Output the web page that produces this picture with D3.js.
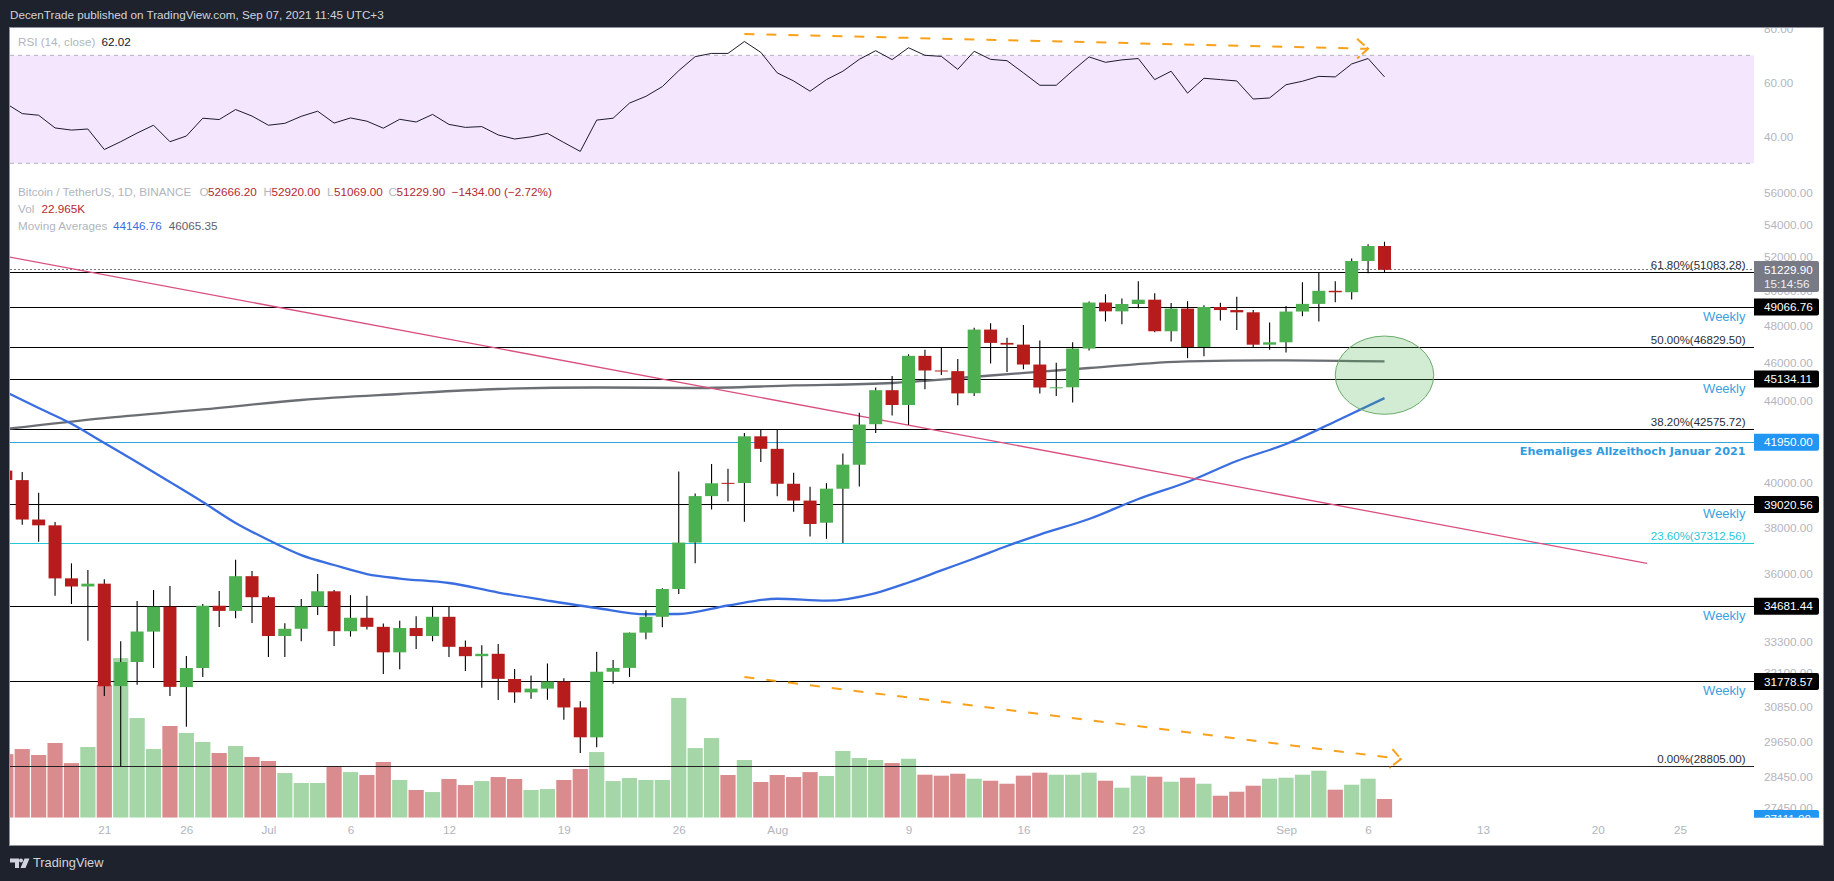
<!DOCTYPE html>
<html><head><meta charset="utf-8">
<script src="https://cdn.jsdelivr.net/npm/d3@7"></script>
<style>html,body{margin:0;padding:0;background:#1e222d;overflow:hidden}svg{display:block}text{font-family:"Liberation Sans",Arial,sans-serif}</style>
</head><body><svg id="c" width="1834" height="881"></svg>
<script>
// ---- data (daily bars from 15 Jun 2021 to 7 Sep 2021) ----
const firstDay = "2021-06-15";
const opens = [40590,40143,38349,38092,35820,35484,35600,31614,32509,33675,34663,31576,32283,34700,34494,35911,35045,33502,33786,34669,35287,33690,34220,33862,32875,33815,33502,34258,33086,32729,32820,31874,31383,31520,31778,30840,29790,32144,32287,33634,34258,35381,37337,39406,40015,40008,42235,41626,39974,39201,38207,39744,40865,42832,44555,43798,46365,45585,45551,44400,47800,47068,46973,45901,44695,44705,46760,49322,48821,49239,49486,47707,48978,46843,49069,48895,48767,46970,47100,48810,49246,49999,49915,51756,52666.2];
const highs = [41330,40527,39560,38240,36450,36170,35780,33298,34891,35340,35500,32733,34770,35300,36600,36130,35100,34000,34970,36000,35340,35130,35100,33990,34100,34285,34690,34680,33331,33150,33190,32250,32000,32450,31900,31060,32900,32580,33640,34520,35410,40550,39530,40900,40680,42400,42600,42600,40490,39830,40000,41400,43400,44700,45300,46450,46700,46800,46200,47900,48150,47350,48050,47200,46000,47100,49380,49800,49550,50550,49850,49300,49400,49170,49310,49650,48900,48200,49130,50500,51080,50550,51900,52780,52920];
const lows = [39506,38116,37375,35105,34770,33320,31250,28805,31665,32283,31250,30160,31947,33860,34200,34013,32700,32700,33300,34330,33115,33480,33760,32060,32240,33000,33300,32700,32170,31550,31107,31010,31150,31120,30400,29250,29450,31700,31950,33380,33850,35175,36450,38800,39165,38250,41000,39400,38700,37600,37500,37320,39850,42400,43270,42800,44600,45350,43790,44250,45950,45500,45650,44390,44250,43930,46650,48250,48100,49000,47650,47150,46240,46350,48300,47770,46850,46700,46550,48550,48250,49340,49500,51020,51069];
const closes = [40150,38349,38092,35819,35484,35600,31608,32509,33678,34663,31584,32283,34700,34494,35911,35045,33504,33786,34669,35287,33690,34220,33862,32875,33815,33502,34258,33086,32729,32820,31880,31383,31520,31778,30839,29790,32144,32287,33634,34258,35381,37337,39406,39995,40008,42235,41626,39974,39201,38152,39747,40869,42816,44555,43798,46365,45585,45551,44390,47800,47068,46973,45901,44695,44705,46760,49322,48821,49239,49486,47707,48978,46843,49069,48895,48767,46970,47100,48810,49246,49999,49915,51756,52663,51229.9];
const volumesK = [78,84.3,77,91.7,67,86.8,163,196,122.4,84.3,112.6,104,93,79.4,88,74.5,69.6,54.8,42.6,42.6,62.2,56,52.4,68.4,46.3,34,31.5,47.5,40.1,45,49.9,47.5,34,35.2,46.3,59.8,80.6,45,48.7,46.3,46.3,147,85.5,97.8,52.4,70.8,43.8,52.4,49.9,56,51.2,81.9,73.3,70.8,67.1,72.4,52.8,51.6,54,47.9,45.4,41.7,51.6,55.3,52.8,52.8,55.3,45.4,36.8,51.6,50.3,44.2,49.1,41.7,27,31.9,39.3,47.9,49.1,52.8,57.7,34.4,40.5,47.9,22.965];
const rsiValues = [52.2,48.4,47.8,43.1,42.3,42.7,35.1,38.0,41.2,44.1,38.0,40.1,46.7,46.2,49.9,47.5,44.1,44.8,47.4,49.3,44.9,46.8,45.6,43.0,46.3,45.3,48.1,44.4,43.3,43.6,40.5,39.0,39.8,41.1,37.7,34.4,46.0,46.7,52.3,54.8,58.4,64.3,69.5,70.7,70.7,75.1,71.1,63.5,60.5,56.7,61.0,64.1,68.5,71.7,68.4,72.8,70.0,69.6,64.8,71.5,68.5,68.0,63.5,58.9,58.9,64.3,69.4,67.4,68.3,68.8,61.0,64.1,56.0,61.5,61.0,60.5,53.8,54.2,59.1,60.4,62.2,62.0,66.8,68.8,62.02];
// moving averages, read at sampled days (day index counted from 21 Jun)
const ma50Days = [-6,-4,-2,0,2,4,6,8,10,12,14,16,18,21,24,27,30,33,35,38,41,44,47,49,51,53,55,57,60,63,66,69,72,75,78];
const ma50Values = [44462,43646,42858,41909,40981,40056,39137,38196,37449,36801,36380,36001,35813,35628,35237,34911,34610,34360,34370,34710,34984,34903,35216,35648,36150,36654,37190,37686,38372,39273,40056,41043,41860,42967,44146.76];
const ma200Days = [-6,0,6,12,18,24,30,36,42,48,54,60,66,72,78];
const ma200Values = [42595,43140,43570,44052,44358,44618,44696,44670,44800,44929,45320,45718,46074,46126,46065.35];
const priceTicks = [56000,54000,52000,50000,48000,46000,44000,42000,40000,38000,36000,33300,32100,30850,29650,28450,27450];
const rsiTicks = [80,60,40];
const timeTickDays = [0,5,10,15,21,28,35,41,49,56,63,72,77,84,91,96];
const timeTickLabels = ["21","26","Jul","6","12","19","26","Aug","9","16","23","Sep","6","13","20","25"];
const blackLevels = [49066.76,45134.11,39020.56,34681.44,31778.57];
const fibLevels = [51083.28,46829.50,42575.72,37312.56,28805.00];
const fibPercents = ["61.80%","50.00%","38.20%","23.60%","0.00%"];
const athLevel = 41950;
const lastPrice = 51229.90;
const countdown = "15:14:56";
const lowAxisLabel = 27111;
const trendDays = [-6,94];
const trendPrices = [52040,36450];
const rsiArrowDays = [39,77];
const rsiArrowValues = [77.9,72.4];
const priceArrowDays = [39,79];
const priceArrowPrices = [31947,29049];
const zoneDays = [75,81];
const zonePrices = [47443,43326];

// ---- scales ----
const day0 = new Date(Date.UTC(2021,5,21));
const dayAt = i => d3.utcDay.offset(day0, i);
const barDay = i => d3.utcDay.offset(new Date(firstDay+"T00:00:00Z"), i);
const x = d3.scaleUtc().domain([dayAt(0),dayAt(78)]).range([104.3,1384.5]);
const y = d3.scaleLog().domain([28805,51083.28]).range([766.3,272.3]);
const yR = d3.scaleLinear().domain([30,70]).range([163.3,55.3]);
const yV = d3.scaleLinear().domain([0,200]).range([817.7,654.8]);

const L=10,R=1754,T=28,B=817.7;
const C={bg:"#1e222d",up:"#4caf50",dn:"#b71c1c",upV:"#a5d6a7",dnV:"#da8b8d",grey:"#b2b5be",blue:"#3d9fe0",teal:"#26c6da",org:"#f9a11b"};
const svg=d3.select("#c");
svg.append("rect").attr("width",1834).attr("height",881).attr("fill",C.bg);
svg.append("rect").attr("x",L-.5).attr("y",27.5).attr("width",1824-L).attr("height",845.5-27.5).attr("fill","#fff").attr("stroke","#8f929b");
svg.append("defs").append("clipPath").attr("id","plot").append("rect").attr("x",L).attr("y",T).attr("width",R-L).attr("height",B-T);
svg.select("defs").append("clipPath").attr("id","axisclip").append("rect").attr("x",R).attr("y",T).attr("width",69).attr("height",B-T);

const txt=(s,xx,yy,o={})=>svg.append("text").text(s).attr("x",xx).attr("y",yy).attr("dy",".35em")
  .attr("font-size",o.size||11.7).attr("fill",o.fill||C.grey).attr("text-anchor",o.anchor||"start")
  .attr("font-weight",o.weight||400).style("font-family",o.family||null);

const g=svg.append("g").attr("clip-path","url(#plot)");
// RSI band
g.append("rect").attr("x",L).attr("width",R-L).attr("y",yR(70)).attr("height",yR(30)-yR(70)).attr("fill","#f3e6fd");
[70,30].forEach(v=>g.append("line").attr("x1",L).attr("x2",R).attr("y1",yR(v)).attr("y2",yR(v)).attr("stroke","#b4b0bc").attr("stroke-dasharray","4 4"));
// RSI line
const idx=d3.range(opens.length);
g.append("path").attr("d",d3.line().x(i=>x(barDay(i))).y(i=>yR(rsiValues[i]))(idx)).attr("fill","none").attr("stroke","#1e1a2e").attr("stroke-width",1);

// volume
g.selectAll(".v").data(idx).join("rect").attr("x",i=>x(barDay(i))-7.6).attr("width",15.2)
  .attr("y",i=>yV(volumesK[i])).attr("height",i=>yV(0)-yV(volumesK[i]))
  .attr("fill",i=>closes[i]>=opens[i]?C.upV:C.dnV);

// levels
const hline=(v,col,w,dash)=>{const l=g.append("line").attr("x1",L).attr("x2",R).attr("y1",y(v)).attr("y2",y(v)).attr("stroke",col).attr("stroke-width",w).attr("shape-rendering","crispEdges");if(dash)l.attr("stroke-dasharray",dash);};
hline(lastPrice,"#787b86",1,"1.5 2.5");
blackLevels.forEach(v=>hline(v,"#000",1));
fibLevels.forEach((v,i)=>hline(v,i==3?C.teal:(i==4?"#222":"#000"),1));
hline(athLevel,"#33a3d8",1);

// moving averages
const pts=(ds,vs)=>ds.map((d,i)=>[x(dayAt(d)),y(vs[i])]);
const ln=d3.line().curve(d3.curveMonotoneX);
g.append("path").attr("d",ln(pts(ma200Days,ma200Values))).attr("fill","none").attr("stroke","#6b6e73").attr("stroke-width",2.3);
g.append("path").attr("d",ln(pts(ma50Days,ma50Values))).attr("fill","none").attr("stroke","#3a6ee0").attr("stroke-width",2.3);
// trend line
g.append("line").attr("x1",x(dayAt(trendDays[0]))).attr("y1",y(trendPrices[0])).attr("x2",x(dayAt(trendDays[1]))).attr("y2",y(trendPrices[1])).attr("stroke","#d9507f").attr("stroke-width",1.3);
// zone
const zx0=x(dayAt(zoneDays[0])),zx1=x(dayAt(zoneDays[1])),zy0=y(zonePrices[0]),zy1=y(zonePrices[1]);
g.append("ellipse").attr("cx",(zx0+zx1)/2).attr("cy",(zy0+zy1)/2).attr("rx",(zx1-zx0)/2).attr("ry",(zy1-zy0)/2)
  .attr("fill","rgba(76,175,80,.25)").attr("stroke","#6aab6a").attr("stroke-width",1);

// candles
g.selectAll(".w").data(idx).join("line").attr("x1",i=>x(barDay(i))).attr("x2",i=>x(barDay(i)))
  .attr("y1",i=>y(highs[i])).attr("y2",i=>y(lows[i])).attr("stroke","#000").attr("stroke-width",1.1);
g.selectAll(".b").data(idx).join("rect").attr("x",i=>x(barDay(i))-6.5).attr("width",13)
  .attr("y",i=>Math.min(y(opens[i]),y(closes[i])))
  .attr("height",i=>Math.max(1,Math.abs(y(opens[i])-y(closes[i]))))
  .attr("fill",i=>closes[i]>=opens[i]?C.up:C.dn);

// arrows
const arrow=(p0,p1,h1,h2)=>{
  g.append("line").attr("x1",p0[0]).attr("y1",p0[1]).attr("x2",p1[0]).attr("y2",p1[1]).attr("stroke",C.org).attr("stroke-width",2).attr("stroke-dasharray","10 12");
  g.append("path").attr("d",`M${p1[0]+h1[0]},${p1[1]+h1[1]}L${p1[0]},${p1[1]}L${p1[0]+h2[0]},${p1[1]+h2[1]}`).attr("fill","none").attr("stroke",C.org).attr("stroke-width",2).attr("stroke-dasharray","10 3");
};
arrow([x(dayAt(rsiArrowDays[0])),yR(rsiArrowValues[0])],[x(dayAt(rsiArrowDays[1])),yR(rsiArrowValues[1])],[-11,-10],[-11,9.6]);
arrow([x(dayAt(priceArrowDays[0])),y(priceArrowPrices[0])],[x(dayAt(priceArrowDays[1])),y(priceArrowPrices[1])],[-8.5,-10],[-11.5,9]);

// level labels
const lx=1745.5;
fibLevels.forEach((v,i)=>txt(`${fibPercents[i]}(${d3.format(".2f")(v)})`,lx,y(v)-7.6,{anchor:"end",size:11.5,fill:i==3?C.teal:"#2a2e39"}));
blackLevels.forEach(v=>txt("Weekly",lx,y(v)+9,{anchor:"end",size:13,fill:C.blue}));
txt("Ehemaliges Allzeithoch Januar 2021",lx,y(athLevel)+8.7,{anchor:"end",size:11.2,fill:"#2f9be0",weight:700,family:"DejaVu Sans"});

// axes
const axP=svg.append("g").attr("clip-path","url(#axisclip)");
const ga=axP.append("g").attr("transform",`translate(${R},0)`).call(d3.axisRight(y).tickValues(priceTicks).tickFormat(d3.format(".2f")).tickSize(0).tickPadding(10));
const gr=axP.append("g").attr("transform",`translate(${R},0)`).call(d3.axisRight(yR).tickValues(rsiTicks).tickFormat(d3.format(".2f")).tickSize(0).tickPadding(10));
[ga,gr].forEach(a=>{a.select(".domain").remove();a.selectAll("text").attr("fill",C.grey).attr("font-size",11.7).style("font-family",'"Liberation Sans"');});
const gx=svg.append("g").attr("transform",`translate(0,${B})`).call(d3.axisBottom(x).tickValues(timeTickDays.map(dayAt)).tickFormat((d,i)=>timeTickLabels[i]).tickSize(0).tickPadding(8));
gx.select(".domain").remove();
gx.selectAll("text").attr("fill",C.grey).attr("font-size",11.7).style("font-family",'"Liberation Sans"');

// axis price boxes
const box=(v,col,label)=>{
  axP.append("path").attr("d",`M${R},${y(v)-8.5}H1817a2,2 0 0 1 2,2V${y(v)+6.5}a2,2 0 0 1 -2,2H${R}Z`).attr("fill",col);
  axP.append("text").text(label).attr("x",1764).attr("y",y(v)).attr("dy",".35em").attr("fill","#fff").attr("font-size",11.7);
};
blackLevels.forEach(v=>box(v,"#000",d3.format(".2f")(v)));
box(athLevel,"#2196f3",d3.format(".2f")(athLevel));
box(lowAxisLabel,"#2196f3",d3.format(".2f")(lowAxisLabel));
axP.append("path").attr("d",`M${R},261H1817a2,2 0 0 1 2,2V290a2,2 0 0 1 -2,2H${R}Z`).attr("fill","#787b86");
axP.append("text").text(d3.format(".2f")(lastPrice)).attr("x",1764).attr("y",y(lastPrice)).attr("dy",".35em").attr("fill","#fff").attr("font-size",11.7);
axP.append("text").text(countdown).attr("x",1764).attr("y",y(lastPrice)+14.4).attr("dy",".35em").attr("fill","#eceef2").attr("font-size",11.7);

// header and legends
txt("DecenTrade published on TradingView.com, Sep 07, 2021 11:45 UTC+3",10,14.7,{size:11.7,fill:"#d1d4dc"});
txt("RSI (14, close)",18,41.7,{size:11.7});
txt(d3.format(".2f")(rsiValues[rsiValues.length-1]),101.6,41.7,{size:11.7,fill:"#131722"});
txt("Bitcoin / TetherUS, 1D, BINANCE",18,191.7,{size:11.7});
const red="#b22833";
[["O",199.6],["H",263.6],["L",327],["C",388.5]].forEach(a=>txt(a[0],a[1],191.7,{size:11.7}));
[[opens,208],[highs,271.5],[lows,334],[closes,396.4]].forEach(a=>txt(d3.format(".2f")(a[0][a[0].length-1]),a[1],191.7,{size:11.7,fill:red}));
txt("\u22121434.00 (\u22122.72%)",451.8,191.7,{size:11.7,fill:red});
txt("Vol",18,209,{size:11.7});
txt(d3.format(".3f")(volumesK[volumesK.length-1])+"K",41.5,209,{size:11.7,fill:red});
txt("Moving Averages",18,226,{size:11.7});
txt(d3.format(".2f")(ma50Values[ma50Values.length-1]),113,226,{size:11.7,fill:"#3a6ee0"});
txt(d3.format(".2f")(ma200Values[ma200Values.length-1]),168.8,226,{size:11.7,fill:"#5d606b"});

// TradingView mark
svg.append("path").attr("d","M10,858.5h9v9.5h-4v-5.5h-5zM24.5,858.5h5l-4,9.5h-5z").attr("fill","#d1d4dc");
svg.append("circle").attr("cx",21).attr("cy",860.5).attr("r",2).attr("fill","#d1d4dc");
txt("TradingView",33,863,{size:12.8,fill:"#d1d4dc"});
</script></body></html>
